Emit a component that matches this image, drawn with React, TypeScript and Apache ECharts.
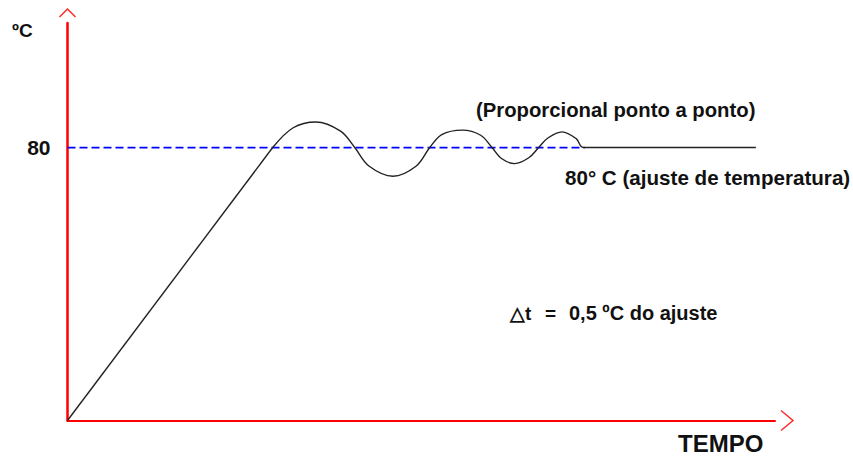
import React, { useEffect, useRef } from "react";
import * as echarts from "echarts";

// Axis domains (arbitrary time units on x, °C on y)
const X_MAX = 100;
const Y_MAX = 116.5;
const Y_TICKS = [0, 80];
const Y_TICK_INTERVAL = 80;

// Set point (dashed reference)
const setpointX = [0, 73.1];
const setpointY = [80, 80];

// Heating ramp
const rampX = [0, 29.0];
const rampY = [0, 80];

// Proportional oscillation around the set point, then steady line
const waveX = [29.0, 31.9, 35.1, 38.6, 40.6, 42.6, 46.0, 49.3, 51.2, 52.9, 55.8, 58.4, 60.0, 61.4, 63.2, 65.2, 66.6, 67.9, 69.9, 71.9, 72.9, 97.3];
const waveY = [80, 85.8, 87.5, 84.8, 80, 74.6, 71.6, 74.6, 80, 83.8, 85.1, 83.6, 80, 76.7, 75.3, 77.0, 80, 82.8, 84.6, 82.6, 80, 80];

const FONT = '"Liberation Sans", Arial, sans-serif';

const zip = (xs: number[], ys: number[]) => xs.map((x, i) => [x, ys[i]]);

export default function App() {
  const ref = useRef<HTMLDivElement>(null);
  useEffect(() => {
    if (!ref.current) return;
    const chart = echarts.init(ref.current, null, { renderer: "svg" });
    chart.setOption({
      animation: false,
      backgroundColor: "#ffffff",
      grid: { left: 67.5, right: 78, top: 23, bottom: 35.5 },
      xAxis: {
        type: "value",
        min: 0,
        max: X_MAX,
        axisLine: { show: true, lineStyle: { color: "#ff0000", width: 2 } },
        axisTick: { show: false },
        axisLabel: { show: false },
        splitLine: { show: false },
      },
      yAxis: {
        type: "value",
        min: 0,
        max: Y_MAX,
        interval: Y_TICK_INTERVAL,
        axisLine: { show: true, lineStyle: { color: "#ff0000", width: 2.5 } },
        axisTick: { show: false },
        splitLine: { show: false },
        axisLabel: {
          formatter: (v: number) => (v === Y_TICKS[1] ? String(v) : ""),
          fontFamily: FONT,
          fontWeight: "bold",
          fontSize: 21,
          color: "#111",
          margin: 17,
        },
      },
      series: [
        {
          type: "line",
          data: zip(setpointX, setpointY),
          symbol: "none",
          lineStyle: { color: "#0000ff", width: 1.8, type: [8, 4] },
          z: 1,
        },
        {
          type: "line",
          data: zip(rampX, rampY),
          symbol: "none",
          lineStyle: { color: "#222222", width: 1.4 },
          z: 2,
        },
        {
          type: "line",
          data: zip(waveX, waveY),
          symbol: "none",
          smooth: 0.35,
          lineStyle: { color: "#222222", width: 1.4 },
          z: 2,
        },
      ],
    });

    const top = chart.convertToPixel({ gridIndex: 0 }, [0, Y_MAX]) as number[];
    const end = chart.convertToPixel({ gridIndex: 0 }, [X_MAX, 0]) as number[];
    const txt = (x: number, y: number, text: string, size: number, weight = "bold") => ({
      type: "text",
      x,
      y,
      style: {
        text,
        fontFamily: FONT,
        fontWeight: weight,
        fontSize: size,
        fill: "#111",
        textVerticalAlign: "middle",
        textAlign: "left",
      },
    });
    chart.setOption({
      graphic: [
        {
          type: "polyline",
          shape: { points: [[top[0] - 8, top[1] - 6], [top[0], top[1] - 14], [top[0] + 8, top[1] - 6]] },
          style: { stroke: "#ff2a2a", lineWidth: 1.5, fill: "none" },
        },
        {
          type: "polyline",
          shape: { points: [[end[0] + 6, end[1] - 10], [end[0] + 18, end[1]], [end[0] + 6, end[1] + 10]] },
          style: { stroke: "#ff2a2a", lineWidth: 1.5, fill: "none" },
        },
        txt(12, 30, "ºC", 19),
        txt(476, 109.5, "(Proporcional ponto a ponto)", 20.3),
        txt(565, 177, "80° C (ajuste de temperatura)", 20.6),
        txt(510, 313, "△t", 19),
        txt(545, 313, "=", 19),
        txt(569, 313, "0,5 ºC do ajuste", 20),
        txt(678, 443, "TEMPO", 24),
      ],
    });
    return () => chart.dispose();
  }, []);
  return (
    <div
      ref={ref}
      style={{ position: "fixed", left: 0, top: 0, width: 853, height: 456 }}
    />
  );
}
